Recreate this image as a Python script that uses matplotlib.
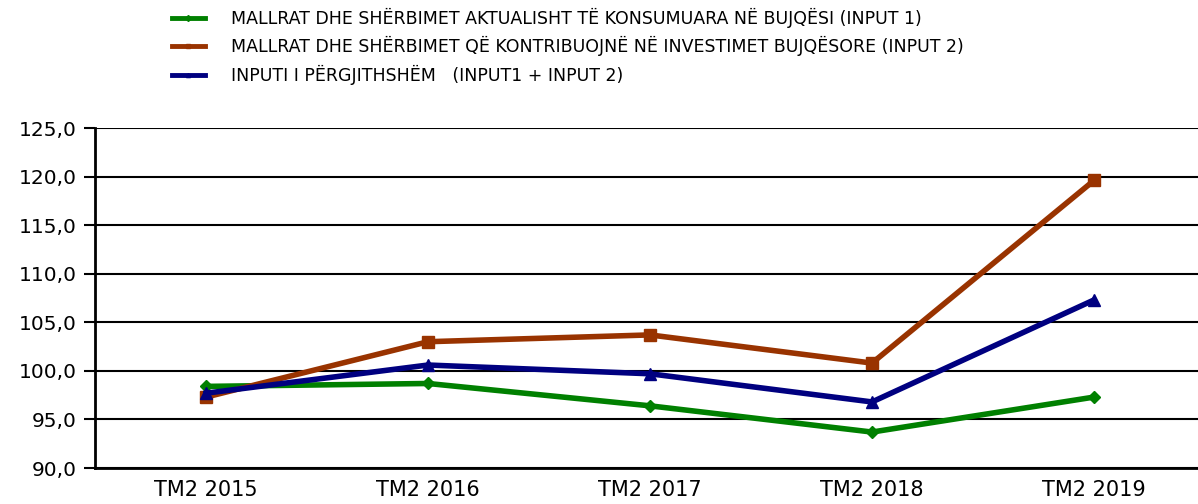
import matplotlib
matplotlib.use("Agg")
import matplotlib.pyplot as plt
from matplotlib.lines import Line2D

categories = ["TM2 2015", "TM2 2016", "TM2 2017", "TM2 2018", "TM2 2019"]
input1 = [98.4, 98.7, 96.4, 93.7, 97.3]
input2 = [97.3, 103.0, 103.7, 100.8, 119.6]
total = [97.7, 100.6, 99.7, 96.8, 107.3]
labels = [
    "MALLRAT DHE SHËRBIMET AKTUALISHT TË KONSUMUARA NË BUJQËSI (INPUT 1)",
    "MALLRAT DHE SHËRBIMET QË KONTRIBUOJNË NË INVESTIMET BUJQËSORE (INPUT 2)",
    "INPUTI I PËRGJITHSHËM   (INPUT1 + INPUT 2)",
]
yticks = [90, 95, 100, 105, 110, 115, 120, 125]

plt.rcParams['font.family'] = ['DejaVu Sans']

W, H = 1198, 504
fig = plt.figure(figsize=(W / 100, H / 100), dpi=100)
left, right, top, bottom = 95, 1205, 128, 468
ax = fig.add_axes([left / W, 1 - bottom / H, (right - left) / W, (bottom - top) / H])

x = list(range(len(categories)))
series = [
    (input1, "#008000", "D", 6),
    (input2, "#993300", "s", 9),
    (total, "#000080", "^", 9),
]
for vals, col, mk, ms in series:
    ax.plot(x, vals, color=col, lw=4, marker=mk, ms=ms, solid_joinstyle="miter", clip_on=False, zorder=3)

ax.set_xlim(-0.5, 4.5)
ax.set_ylim(90, 125)
ax.set_yticks(yticks)
ax.set_yticklabels([f"{v:.1f}".replace(".", ",") for v in yticks], fontsize=14.5)
ax.set_xticks(x)
ax.set_xticklabels(categories, fontsize=15)
ax.tick_params(axis="x", length=0, pad=9)
ax.tick_params(axis="y", length=8, width=1.5, direction="out", pad=5)
ax.grid(axis="y", color="black", lw=1.5)
for s in ["top", "right"]:
    ax.spines[s].set_visible(False)
for s in ["left", "bottom"]:
    ax.spines[s].set_linewidth(2)
ax.set_axisbelow(True)

handles = [Line2D([0], [0], color=c, lw=3.5, marker=m, ms=3) for _, c, m, _ in series]
fig.legend(handles, labels, loc="upper left", bbox_to_anchor=(172 / W, 1 - 8 / H),
           frameon=False, fontsize=12.5, handlelength=1.9, handletextpad=1.5,
           labelspacing=0.48, borderpad=0, borderaxespad=0)

fig.savefig("out.png", dpi=100)
